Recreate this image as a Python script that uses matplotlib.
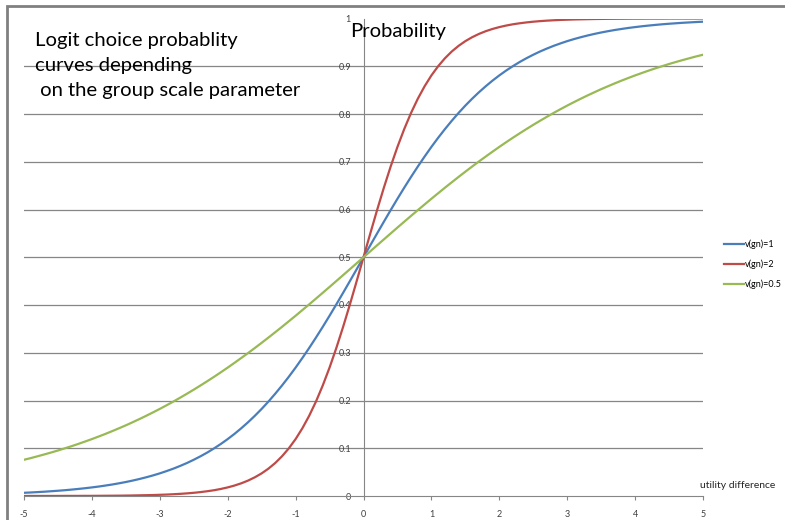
import numpy as np
import matplotlib.pyplot as plt
from matplotlib.patches import Rectangle

# utility difference, step 0.1 from -5 to 5
x_vals = np.linspace(-5, 5, 101)

# v(gn)=1
p_v1 = [0.0067, 0.0074, 0.0082, 0.0090, 0.0100, 0.0110, 0.0121, 0.0134, 0.0148, 0.0163,
        0.0180, 0.0198, 0.0219, 0.0241, 0.0266, 0.0293, 0.0323, 0.0356, 0.0392, 0.0431,
        0.0474, 0.0522, 0.0573, 0.0630, 0.0691, 0.0759, 0.0832, 0.0911, 0.0998, 0.1091,
        0.1192, 0.1301, 0.1419, 0.1545, 0.1680, 0.1824, 0.1978, 0.2142, 0.2315, 0.2497,
        0.2689, 0.2891, 0.3100, 0.3318, 0.3543, 0.3775, 0.4013, 0.4256, 0.4502, 0.4750,
        0.5000,
        0.5250, 0.5498, 0.5744, 0.5987, 0.6225, 0.6457, 0.6682, 0.6900, 0.7109, 0.7311,
        0.7503, 0.7685, 0.7858, 0.8022, 0.8176, 0.8320, 0.8455, 0.8581, 0.8699, 0.8808,
        0.8909, 0.9002, 0.9089, 0.9168, 0.9241, 0.9309, 0.9370, 0.9427, 0.9478, 0.9526,
        0.9569, 0.9608, 0.9644, 0.9677, 0.9707, 0.9734, 0.9759, 0.9781, 0.9802, 0.9820,
        0.9837, 0.9852, 0.9866, 0.9879, 0.9890, 0.9900, 0.9910, 0.9918, 0.9926, 0.9933]

# v(gn)=2
p_v2 = [0.0000, 0.0001, 0.0001, 0.0001, 0.0001, 0.0001, 0.0002, 0.0002, 0.0002, 0.0003,
        0.0003, 0.0004, 0.0005, 0.0006, 0.0007, 0.0009, 0.0011, 0.0014, 0.0017, 0.0020,
        0.0025, 0.0030, 0.0037, 0.0045, 0.0055, 0.0067, 0.0082, 0.0100, 0.0121, 0.0148,
        0.0180, 0.0219, 0.0266, 0.0323, 0.0392, 0.0474, 0.0573, 0.0691, 0.0832, 0.0998,
        0.1192, 0.1419, 0.1680, 0.1978, 0.2315, 0.2689, 0.3100, 0.3543, 0.4013, 0.4502,
        0.5000,
        0.5498, 0.5987, 0.6457, 0.6900, 0.7311, 0.7685, 0.8022, 0.8320, 0.8581, 0.8808,
        0.9002, 0.9168, 0.9309, 0.9427, 0.9526, 0.9608, 0.9677, 0.9734, 0.9781, 0.9820,
        0.9852, 0.9879, 0.9900, 0.9918, 0.9933, 0.9945, 0.9955, 0.9963, 0.9970, 0.9975,
        0.9980, 0.9983, 0.9986, 0.9989, 0.9991, 0.9993, 0.9994, 0.9995, 0.9996, 0.9997,
        0.9997, 0.9998, 0.9998, 0.9998, 0.9999, 0.9999, 0.9999, 0.9999, 0.9999, 1.0000]

# v(gn)=0.5
p_v05 = [0.0759, 0.0794, 0.0832, 0.0871, 0.0911, 0.0953, 0.0998, 0.1043, 0.1091, 0.1141,
         0.1192, 0.1246, 0.1301, 0.1359, 0.1419, 0.1480, 0.1545, 0.1611, 0.1680, 0.1751,
         0.1824, 0.1900, 0.1978, 0.2059, 0.2142, 0.2227, 0.2315, 0.2405, 0.2497, 0.2592,
         0.2689, 0.2789, 0.2891, 0.2994, 0.3100, 0.3208, 0.3318, 0.3430, 0.3543, 0.3659,
         0.3775, 0.3894, 0.4013, 0.4134, 0.4256, 0.4378, 0.4502, 0.4626, 0.4750, 0.4875,
         0.5000,
         0.5125, 0.5250, 0.5374, 0.5498, 0.5622, 0.5744, 0.5866, 0.5987, 0.6106, 0.6225,
         0.6341, 0.6457, 0.6570, 0.6682, 0.6792, 0.6900, 0.7006, 0.7109, 0.7211, 0.7311,
         0.7408, 0.7503, 0.7595, 0.7685, 0.7773, 0.7858, 0.7941, 0.8022, 0.8100, 0.8176,
         0.8249, 0.8320, 0.8389, 0.8455, 0.8520, 0.8581, 0.8641, 0.8699, 0.8754, 0.8808,
         0.8859, 0.8909, 0.8957, 0.9002, 0.9047, 0.9089, 0.9129, 0.9168, 0.9206, 0.9241]

x_ticks = [-5, -4, -3, -2, -1, 0, 1, 2, 3, 4, 5]
y_ticks = [0, 0.1, 0.2, 0.3, 0.4, 0.5, 0.6, 0.7, 0.8, 0.9, 1]
y_tick_labels = ["0", "0.1", "0.2", "0.3", "0.4", "0.5", "0.6", "0.7", "0.8", "0.9", "1"]

plt.rcParams['font.family'] = ['Lato', 'DejaVu Sans']

fig = plt.figure(figsize=(7.85, 5.2), dpi=100)
ax = fig.add_axes([24 / 785, 24 / 520, 679 / 785, 477.5 / 520])

ax.plot(x_vals, p_v1, color="#4A7EBB", lw=1.6, label="v(gn)=1")
ax.plot(x_vals, p_v2, color="#BE4B48", lw=1.6, label="v(gn)=2")
ax.plot(x_vals, p_v05, color="#98B954", lw=1.6, label="v(gn)=0.5")

ax.set_xlim(-5, 5)
ax.set_ylim(0, 1)

# gridlines across the plot
for yv in y_ticks[1:-1]:
    ax.axhline(yv, color="#868686", lw=0.9, zorder=0)

for s in ["top", "right"]:
    ax.spines[s].set_visible(False)
ax.spines["left"].set_position(("data", 0))
ax.spines["bottom"].set_position(("data", 0))
ax.spines["left"].set_color("#868686")
ax.spines["bottom"].set_color("#868686")
ax.spines["left"].set_zorder(0)

ax.set_xticks(x_ticks)
ax.set_xticklabels([str(t) for t in x_ticks])
ax.set_yticks(y_ticks)
ax.set_yticklabels(y_tick_labels)
ax.tick_params(axis="x", direction="out", length=3, color="#868686", labelsize=6.5,
               labelcolor="#404040", pad=7)
ax.tick_params(axis="y", length=0, labelsize=6.5, labelcolor="#404040", pad=9)

fig.text(35 / 785, (520 - 32) / 520,
         "Logit choice probablity\ncurves depending\n on the group scale parameter",
         fontsize=14.6, va="top", ha="left", linespacing=1.58)
ax.text(-0.2, 0.99, "Probability", fontsize=14.6, va="top", ha="left")
fig.text(700 / 785, 35 / 520, "utility difference", fontsize=7.5, color="#262626", va="center")

fig.legend(loc="center left", bbox_to_anchor=(716 / 785, 256 / 520), frameon=False,
           fontsize=6.5, handlelength=2.2, handletextpad=0.1, labelspacing=1.15)

# outer chart border
fig.patches.append(Rectangle((7 / 785, -0.1), 1.2, 514 / 520 + 0.1, transform=fig.transFigure,
                             fill=False, edgecolor="#808080", lw=2))

fig.savefig("out.png", dpi=100)
